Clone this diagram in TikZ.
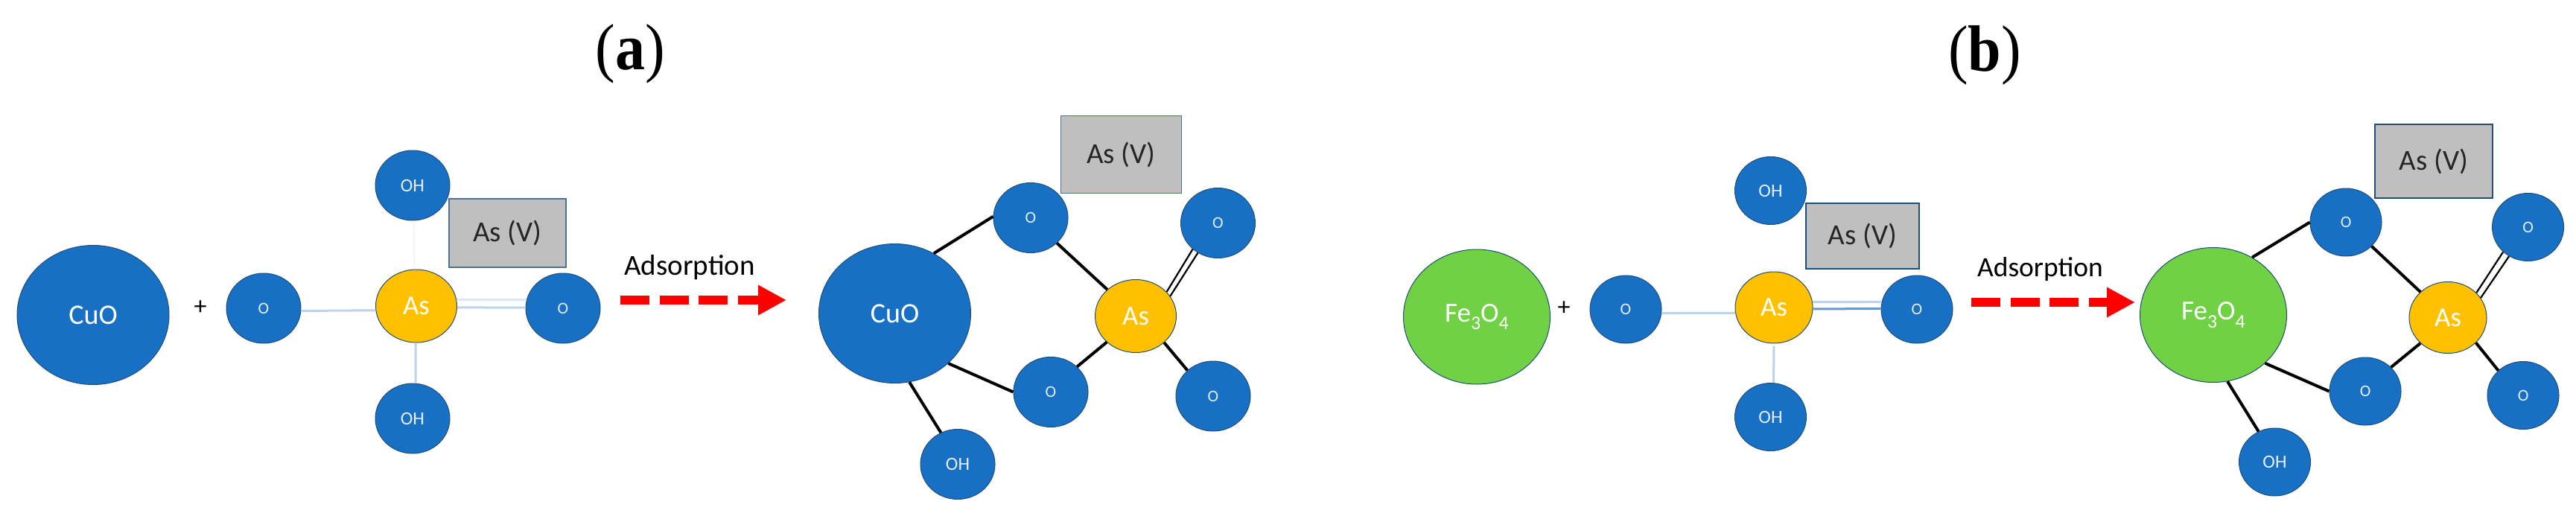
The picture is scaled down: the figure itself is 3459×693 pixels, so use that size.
\documentclass[tikz,border=0pt]{standalone}
\usepackage{fontspec}
\setmainfont{Carlito}
\newfontfamily\titlefont{Liberation Serif}
\usetikzlibrary{shapes.geometric,arrows.meta}
\definecolor{atomblue}{HTML}{1870C5}
\definecolor{atomedge}{HTML}{1F4E79}
\definecolor{asyellow}{HTML}{FFC000}
\definecolor{fegreen}{HTML}{6FD143}
\definecolor{boxgray}{HTML}{BFBFBF}
\definecolor{paletext}{HTML}{E6EFFA}
\definecolor{bondlight}{HTML}{BDD3EC}
\definecolor{bondpale}{HTML}{DCE7F4}
\definecolor{bondmid}{HTML}{5E9ADB}
\newcommand{\fsz}[1]{\fontsize{#1}{#1}\selectfont}
\newcommand{\lowsub}[1]{\raisebox{-.28em}{\scalebox{.7}{#1}}}
\newcommand{\feoxide}{Fe\lowsub{3}O\lowsub{4}}
\tikzset{
  x=1pt,y=-1pt,
  atom/.style={ellipse,inner sep=0pt,draw=atomedge,line width=1pt,text=paletext},
  oatom/.style={atom,fill=atomblue,minimum width=100pt,minimum height=94pt,font=\fsz{22}},
  ohatom/.style={oatom,font=\fsz{25}},
  oatomb/.style={atom,fill=atomblue,minimum width=96pt,minimum height=91pt,font=\fsz{22}},
  ohatomb/.style={oatomb,font=\fsz{25}},
  asatom/.style={atom,fill=asyellow,text=white,minimum width=109pt,minimum height=98pt,font=\fsz{37}},
  asatomb/.style={asatom,minimum width=104pt,minimum height=96pt},
  cuoatom/.style={atom,fill=atomblue,text=white,minimum width=204pt,minimum height=187pt,font=\fsz{38}},
  featom/.style={atom,fill=fegreen,text=white,minimum width=197pt,minimum height=181pt,font=\fsz{37}},
  asbox/.style={rectangle,inner sep=0pt,fill=boxgray,draw=#1,line width=1.5pt,text=black!85,font=\fsz{39}},
  label/.style={inner sep=0pt,text=black,font=\fsz{39}},
  plus/.style={inner sep=0pt,text=black,font=\fsz{34}},
  paneltitle/.style={inner sep=0pt,text=black,font=\titlefont\fsz{80}},
  bondblack/.style={draw=black,line width=4pt},
  bonddouble/.style={draw=black,line width=2.2pt},
  bondfaint/.style={draw=bondlight,line width=3pt},
  adsarrow/.style={draw=red,line width=12pt,dash pattern=on 39pt off 13.5pt,
    -{Triangle[length=38pt,width=38pt,fill=red]}},
}
\begin{document}
\begin{tikzpicture}
\useasboundingbox (0,0) rectangle (3459,693);
\fill[white] (0,0) rectangle (3459,693);
% titles
\node[paneltitle] (ta) at (846,72) {\scalebox{1}[1.1]{(\textbf{a})}};
\node[paneltitle] (tb) at (2665,74) {\scalebox{1}[1.1]{(\textbf{b})}};
% ---------- panel a, reactants
\node[cuoatom] (a1cuo) at (125,423) {CuO};
\node[plus] (a1plus) at (269,413) {+};
\node[oatom] (a1ol) at (354,414) {O};
\node[asatom] (a1as) at (559,411) {As};
\node[oatom] (a1or) at (756,414) {O};
\node[ohatom] (a1oht) at (554,249) {OH};
\node[ohatom] (a1ohb) at (554,562) {OH};
\node[asbox=atomedge!80,minimum width=157pt,minimum height=92pt] (a1box) at (681.5,313) {As (V)};
\draw[bondfaint] (a1ol.356) -- (a1as.186);
\draw[draw=bondpale,line width=3pt] (a1as.9) -- (a1or.167);
\draw[bondfaint] (a1as.358) -- (a1or.179);
\draw[draw=bondpale!50,line width=1.5pt] (a1as.93) -- (a1oht.272);
\draw[bondfaint] (a1as.269) -- (a1ohb.85);
\node[label] (a1ads) at (926,359) {Adsorption};
\coordinate (a1s) at (833,403);
\coordinate (a1e) at (1056,403);
\draw[adsarrow] (a1s) -- (a1e);
% ---------- panel a, product
\node[cuoatom] (a2cuo) at (1201.5,421) {CuO};
\node[oatom] (a2o1) at (1384,292.5) {O};
\node[oatom] (a2o2) at (1635.5,299.5) {O};
\node[asatom] (a2as) at (1525,424.5) {As};
\node[oatom] (a2o3) at (1411,526.5) {O};
\node[oatom] (a2o4) at (1629,532) {O};
\node[ohatom] (a2oh) at (1286,623.5) {OH};
\node[asbox=atomedge!80,minimum width=162pt,minimum height=104pt] (a2box) at (1505.5,207.5) {As (V)};
\draw[bondblack] (a2cuo.57) -- (a2o1.178);
\draw[bondblack] (a2o1.316) -- (a2as.137);
\draw[bonddouble] (a2as.38.6) -- (a2o2.226);
\draw[bonddouble] (a2as.30) -- (a2o2.236);
\draw[bondblack] (a2as.222) -- (a2o3.44);
\draw[bondblack] (a2as.317) -- (a2o4.135);
\draw[bondblack] (a2cuo.317) -- (a2o3.180);
\draw[bondblack] (a2cuo.282) -- (a2oh.118);
% ---------- panel b, reactants
\node[featom] (b1fe) at (1983,425.5) {\feoxide};
\node[plus] (b1plus) at (2100,414.5) {+};
\node[oatomb] (b1ol) at (2183,415.5) {O};
\node[asatomb] (b1as) at (2382,413) {As};
\node[oatomb] (b1or) at (2574,415.5) {O};
\node[ohatomb] (b1oht) at (2377.5,256) {OH};
\node[ohatomb] (b1ohb) at (2377.5,560) {OH};
\node[asbox=atomedge,minimum width=152pt,minimum height=88pt] (b1box) at (2501,317) {As (V)};
\draw[bondfaint] (b1ol.354) -- (b1as.188);
\draw[bondfaint] (b1as.8) -- (b1or.168);
\draw[draw=bondmid,line width=3pt] (b1as.358) -- (b1or.179);
\draw[bondfaint] ([yshift=-3pt]b1as.270) -- (b1ohb.85);
\node[label,font=\fsz{37.5}] (b1ads) at (2739.5,361) {Adsorption};
\coordinate (b1s) at (2647,406);
\coordinate (b1e) at (2867,406);
\draw[adsarrow] (b1s) -- (b1e);
% ---------- panel b, product
\node[featom] (b2fe) at (2972,423) {\feoxide};
\node[oatomb] (b2o1) at (3150,298.5) {O};
\node[oatomb] (b2o2) at (3394.5,305) {O};
\node[asatomb] (b2as) at (3287,426.5) {As};
\node[oatomb] (b2o3) at (3176,525.5) {O};
\node[oatomb] (b2o4) at (3388,531) {O};
\node[ohatomb] (b2oh) at (3054.5,620.5) {OH};
\node[asbox=atomedge,minimum width=158pt,minimum height=99pt] (b2box) at (3268,216.5) {As (V)};
\draw[bondblack] (b2fe.56) -- (b2o1.180);
\draw[bondblack] (b2o1.317) -- (b2as.137);
\draw[bonddouble] (b2as.41.6) -- (b2o2.225);
\draw[bonddouble] (b2as.31) -- (b2o2.237);
\draw[bondblack] (b2as.223) -- (b2o3.43);
\draw[bondblack] (b2as.318) -- (b2o4.135);
\draw[bondblack] (b2fe.317) -- (b2o3.180);
\draw[bondblack] (b2fe.282) -- (b2oh.118);
\end{tikzpicture}
\end{document}
